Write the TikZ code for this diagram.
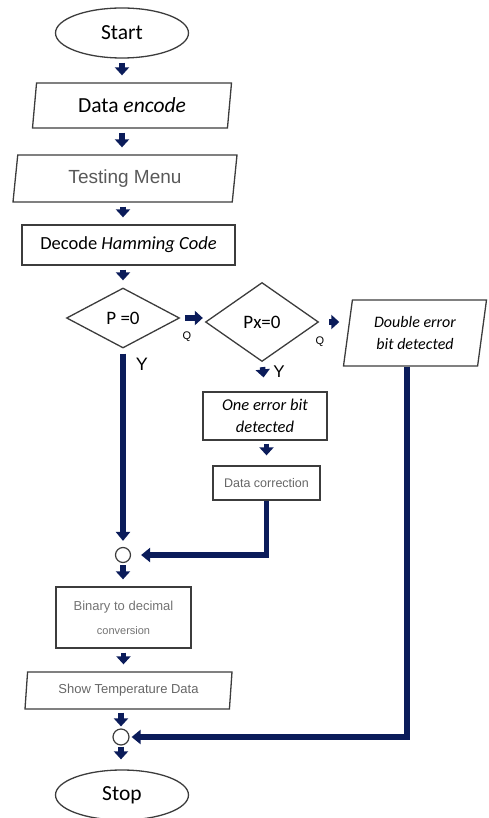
\documentclass[tikz,border=0pt]{standalone}
\usepackage{fontspec}
\setmainfont{Carlito}
\newfontfamily\arialfont{Liberation Sans}
\usetikzlibrary{shapes.geometric,arrows.meta}
\definecolor{navy}{HTML}{0B1C5A}
\definecolor{boxline}{HTML}{3C3C3C}
\tikzset{
  terminal/.style={ellipse, draw=boxline, line width=1.3pt, minimum width=133pt, minimum height=50pt, font=\fontsize{21.5}{24}\selectfont},
  iobox/.style={trapezium, trapezium left angle=75, trapezium right angle=105, trapezium stretches body, draw=boxline, line width=1.3pt, inner sep=0pt},
  procbox/.style={rectangle, draw=boxline, line width=1.3pt, inner sep=0pt, align=center},
  decision/.style={diamond, draw=boxline, line width=1.3pt, inner sep=0pt},
  junction/.style={circle, draw=boxline, line width=1.2pt, minimum size=15pt, inner sep=0pt},
  flow/.style={navy, line width=5.5pt, -{Triangle[width=14pt,length=8pt]}, shorten <=4pt, shorten >=7pt},
  link/.style={navy, line width=5.5pt, -{Triangle[width=14pt,length=9pt]}},
}
\begin{document}
\begin{tikzpicture}[x=1pt, y=-1pt]
    \useasboundingbox (0,0) rectangle (489,818);

    % Main column
    \node[terminal] (start) at (122,33) {Start};
    \node[iobox, minimum width=199pt, minimum height=45pt, font=\fontsize{21.5}{24}\selectfont] (enc) at (132,105.5) {Data \textit{encode}};
    \node[iobox, minimum width=224pt, minimum height=47pt, text=black!65, font=\arialfont\fontsize{19}{22}\selectfont] (menu) at (125,178.5) {Testing Menu};
    \node[procbox, minimum width=213pt, minimum height=40pt, font=\fontsize{18.5}{22}\selectfont] (dec) at (128.5,245) {Decode \textit{Hamming Code}};
    \node[decision, minimum width=113pt, minimum height=60pt, font=\fontsize{19}{20}\selectfont] (p) at (123,318) {P =0};

    % Error branch
    \node[decision, minimum width=113pt, minimum height=79pt, font=\fontsize{19}{20}\selectfont] (px) at (262,322) {Px=0};
    \node[iobox, minimum width=143pt, minimum height=66pt, align=center, font=\itshape\fontsize{16}{22}\selectfont] (dbl) at (415,333) {Double error\\bit detected};
    \node[procbox, minimum width=124pt, minimum height=48pt, font=\itshape\fontsize{16.5}{22}\selectfont] (one) at (265,416) {One error bit\\detected};
    \node[procbox, minimum width=107pt, minimum height=34pt, text=black!60, font=\arialfont\fontsize{12.5}{15}\selectfont] (corr) at (266.5,483) {Data correction};

    % Lower column
    \node[junction] (j1) at (123,555) {};
    \node[procbox, minimum width=135pt, minimum height=61pt, text=black!55, font=\arialfont\fontsize{13}{24}\selectfont] (bin) at (123.5,617.5) {Binary to decimal\\{\fontsize{11}{12}\selectfont conversion}};
    \node[iobox, trapezium left angle=78, trapezium right angle=102, minimum width=207pt, minimum height=37pt, text=black!60, font=\arialfont\fontsize{13}{15}\selectfont] (show) at (128.5,690.5) {Show Temperature Data};
    \node[junction, minimum height=16pt] (j2) at (121,737) {};
    \node[terminal] (stop) at (122,795) {Stop};

    % Labels
    \node[font=\arialfont\fontsize{18}{20}\selectfont] (py) at (142,364) {Y};
    \node[font=\arialfont\fontsize{17}{18}\selectfont] (pxy) at (279,372) {Y};
    \node[font=\arialfont\fontsize{11}{12}\selectfont] (pq) at (187,337) {Q};
    \node[font=\arialfont\fontsize{11}{12}\selectfont] (pxq) at (320,342) {Q};

    % Arrows
    \draw[flow] (start.south) -- (start.south |- enc.north);
    \draw[flow] (enc.south -| start) -- (menu.north -| start);
    \draw[flow] (menu.south -| p) -- (dec.north -| p);
    \draw[flow] (dec.south -| p) -- (p.north);
    \draw[flow, shorten <=5pt, shorten >=2pt] (p.east) -- (p.east -| px.west);
    \draw[flow, shorten <=10pt, shorten >=8pt] (px.east) -- (px.east -| dbl.west);
    \draw[flow, shorten <=5pt, shorten >=14pt] (px.south) -- (one.north);
    \draw[flow, shorten <=3pt, shorten >=10pt] (one.south -| corr) -- (corr.north);
    \draw[flow, shorten <=2pt] (j1.south) -- (bin.north -| j1);
    \draw[flow] (bin.south) -- (show.north -| bin);
    \draw[flow, shorten <=3pt, shorten >=2pt] (show.south -| j2) -- (j2.north);
    \draw[flow, shorten <=1pt, shorten >=10pt] (j2.south) -- (stop.north -| j2);

    % Joining lines
    \draw[link, shorten <=5pt, shorten >=6pt] (p.south) -- (j1.north);
    \draw[link, shorten >=10pt] (corr.south) |- (j1.east);
    \draw[link, shorten >=2pt] ([xshift=-8pt]dbl.south) |- (j2.east);
\end{tikzpicture}
\end{document}
